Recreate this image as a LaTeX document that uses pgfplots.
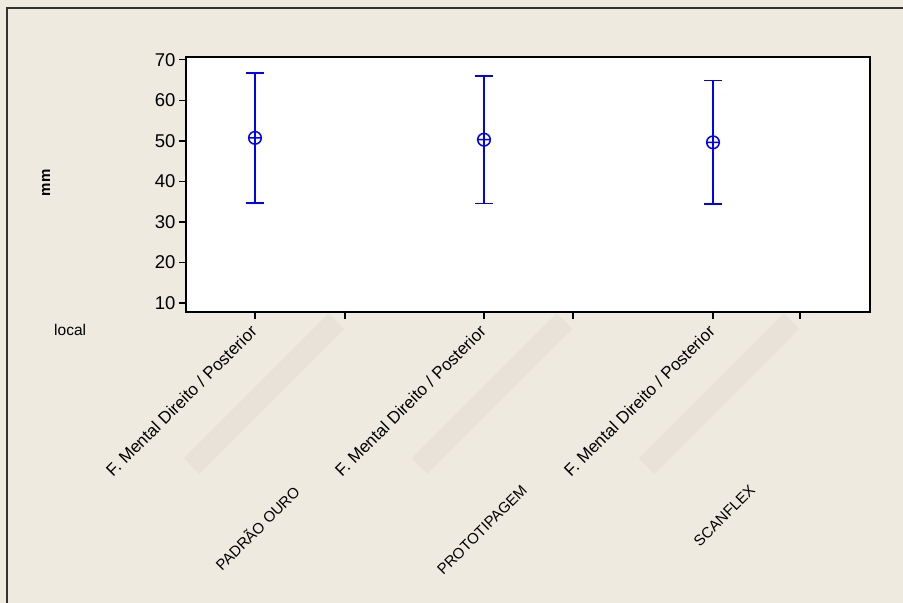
\documentclass[border=0pt]{standalone}
\usepackage{fontspec}
\setmainfont{Liberation Sans}
\usepackage{pgfplots}
\pgfplotsset{compat=1.18}
\definecolor{bgc}{RGB}{238,234,224}
\definecolor{bandc}{RGB}{232,226,217}
\definecolor{framec}{RGB}{50,50,50}
\newcommand{\band}{{\setlength{\fboxsep}{0pt}\raisebox{-7bp}[0pt][0pt]{\colorbox{bandc}{\rule{0pt}{22bp}\rule{205bp}{0pt}}}}}
\begin{document}
\begin{tikzpicture}
\useasboundingbox (0,0) rectangle (903bp,603bp);
\fill[bgc] (0,0) rectangle (903bp,603bp);
\draw[framec, line width=2bp] (7bp,0) -- (7bp,595bp) -- (903bp,595bp);
\begin{axis}[
  at={(186bp,291bp)}, anchor=south west,
  scale only axis, width=684bp, height=255bp,
  xmin=186, xmax=870, ymin=7.8, ymax=70.7,
  axis background/.style={fill=white},
  axis line style={line width=1.2bp, black},
  tick pos=left, tick align=outside, major tick length=7bp,
  tick style={line width=1.2bp, black},
  ytick={10,20,...,70},
  xtick={255,345,484,573,713,800},
  xticklabels={F. Mental Direito / Posterior, \band, F. Mental Direito / Posterior, \band, F. Mental Direito / Posterior, \band},
  xticklabel style={rotate=45, anchor=north east, xshift=-4bp, yshift=4bp, font=\fontsize{17bp}{19bp}\selectfont},
  yticklabel style={font=\fontsize{18.5bp}{20bp}\selectfont},
  /pgf/number format/assume math mode=true,
  extra x ticks={300,529,757},
  extra x tick labels={PADRÃO OURO, PROTOTIPAGEM, SCANFLEX},
  extra x tick style={major tick length=0pt, xticklabel style={xshift=-120bp, yshift=-116bp, font=\fontsize{15bp}{17bp}\selectfont}},
  clip=false,
]
\addplot[blue, line width=1.5bp, only marks, mark=oplus, mark size=6.3bp,
  mark options={line width=1.5bp},
  error bars/.cd, y dir=both, y explicit,
  error bar style={line width=1.5bp, blue},
  error mark options={rotate=90, blue, mark size=9bp, line width=1.5bp}]
  coordinates {
  (255,50.75) +- (0,16.05)
  (484,50.3) +- (0,15.7)
  (713,49.65) +- (0,15.25)
  };
\end{axis}
\node[rotate=90, anchor=base, font=\bfseries\fontsize{15bp}{17bp}\selectfont] at (50bp,420bp) {mm};
\node[anchor=base west, inner sep=0pt, font=\fontsize{15.5bp}{17bp}\selectfont] at (54bp,267bp) {local};
\end{tikzpicture}
\end{document}
